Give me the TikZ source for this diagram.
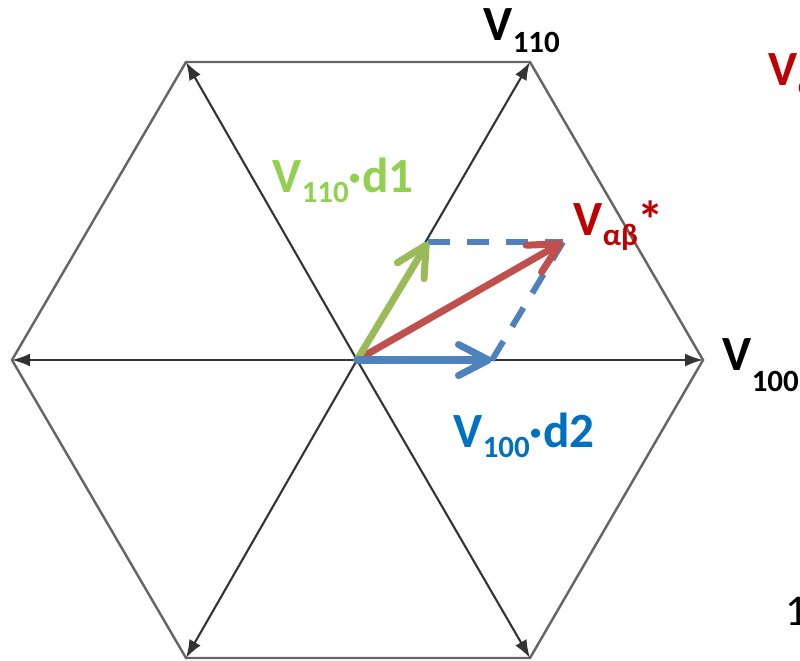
\documentclass[tikz,border=0pt]{standalone}
\usepackage{fontspec}
\setmainfont{Carlito}
\usetikzlibrary{arrows.meta}
\definecolor{vgreen}{HTML}{9BBB59}
\definecolor{vred}{HTML}{C0504D}
\definecolor{vblue}{HTML}{4F81BD}
\definecolor{tgreen}{HTML}{92D050}
\definecolor{tred}{HTML}{C00000}
\definecolor{tblue}{HTML}{0070C0}
\newcommand{\vsub}[2][-5pt]{\raisebox{#1}{\fontsize{8.8}{9}\selectfont #2}}
\tikzset{
	hexedge/.style={black!60,line width=0.7pt},
	spoke/.style={black!80,line width=0.6pt,-{Latex[length=1.8mm,width=1.3mm]}},
	vec/.style={line width=2pt,line cap=round,-{Straight Barb[length=3mm,width=3.1mm,round]}},
	dvec/.style={vblue,line width=1.7pt,dash pattern=on 2.2mm off 1.7mm},
	lbl/.style={anchor=base west,inner sep=0pt,font=\fontsize{14}{15}\selectfont\bfseries}
}
\begin{document}
\begin{tikzpicture}
	\useasboundingbox (0,0) rectangle (8,6.6);
	\coordinate (O) at (3.57,3.00);
	\coordinate (v0) at (7.03,3.00);
	\coordinate (v1) at (5.30,5.98);
	\coordinate (v2) at (1.86,5.98);
	\coordinate (v3) at (0.12,3.00);
	\coordinate (v4) at (1.86,0.02);
	\coordinate (v5) at (5.30,0.02);
	\draw [hexedge] (v0)--(v1)--(v2)--(v3)--(v4)--(v5)--cycle;
	\draw [spoke] (O)--(v0);
	\draw [spoke] (O)--(v1);
	\draw [spoke] (O)--(v2);
	\draw [spoke] (O)--(v3);
	\draw [spoke] (O)--(v4);
	\draw [spoke] (O)--(v5);
	\coordinate (G) at (4.28,4.18);
	\coordinate (B) at (4.92,3.00);
	\coordinate (R) at (5.63,4.18);
	\draw [dvec] (G)--(R);
	\draw [dvec] (B)--(R);
	\draw [vec,vred] (O)--(R);
	\draw [vec,vgreen] (O)--(G);
	\draw [vec,vblue] (O)--(B);
	\node [lbl] (l110) at (4.83,6.20) {V\vsub[-3.5pt]{110}};
	\node [lbl] (l100) at (7.22,2.90) {V\vsub[-6pt]{100}};
	\node [lbl,tred] (lref) at (5.73,4.25) {V\vsub[-3pt]{αβ}\raisebox{-1pt}{\fontsize{15}{15}\selectfont*}};
	\node [lbl,tgreen] (ld1) at (2.72,4.68) {V\vsub[-3pt]{110}·d1};
	\node [lbl,tblue] (ld2) at (4.53,2.13) {V\vsub[-3pt]{100}·d2};
	\node [lbl,tred] (lcut) at (7.68,5.75) {V\vsub[-3pt]{αβ}};
	\node [anchor=base west,inner sep=0pt,font=\fontsize{12.5}{14}\selectfont] (lone) at (7.85,0.35) {1};
\end{tikzpicture}
\end{document}
